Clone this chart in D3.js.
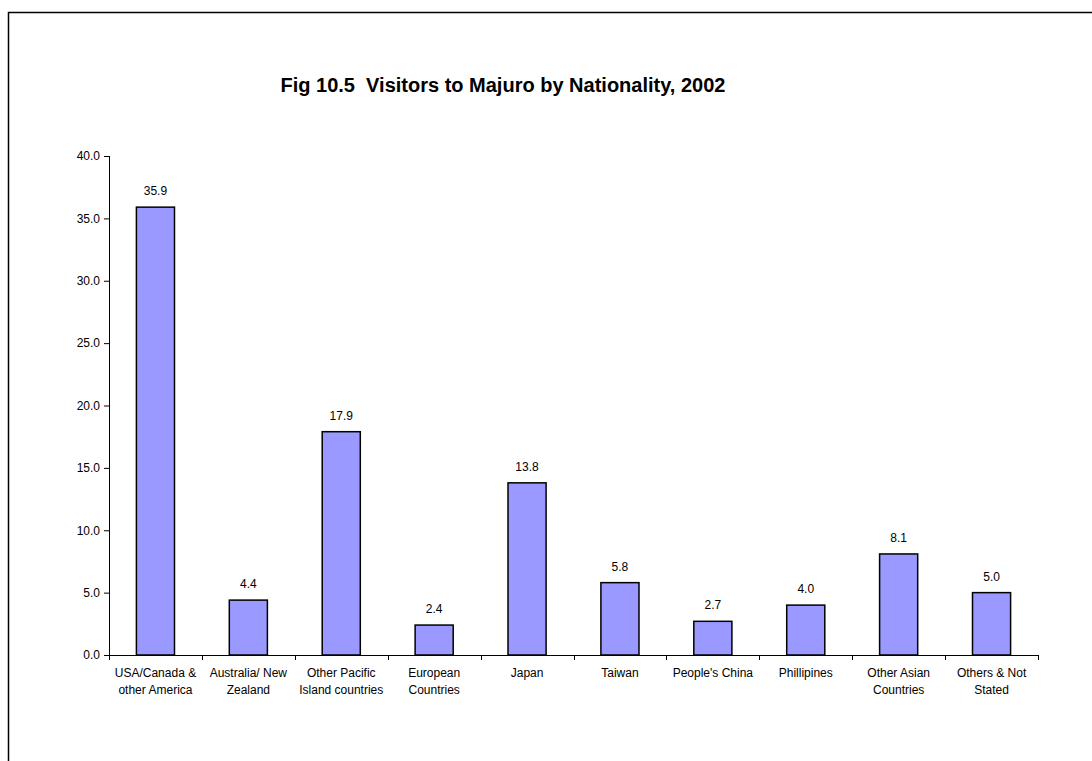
<!DOCTYPE html>
<html>
<head>
<meta charset="utf-8">
<script src="https://cdn.jsdelivr.net/npm/d3@7"></script>
<style>
  html, body { margin: 0; padding: 0; background: #fff; }
  svg { display: block; font-family: Arial, "Liberation Sans", sans-serif; }
</style>
</head>
<body>
<svg id="chart" width="1092" height="761"></svg>
<script>
// Visitors to Majuro by nationality, 2002 (percent of total)
const categories = [
  ["USA/Canada &", "other America"],
  ["Australia/ New", "Zealand"],
  ["Other Pacific", "Island countries"],
  ["European", "Countries"],
  ["Japan"],
  ["Taiwan"],
  ["People's China"],
  ["Phillipines"],
  ["Other Asian", "Countries"],
  ["Others & Not", "Stated"]
];
const values = [35.9, 4.4, 17.9, 2.4, 13.8, 5.8, 2.7, 4.0, 8.1, 5.0];
const yTicks = [0, 5, 10, 15, 20, 25, 30, 35, 40];
const title = "Fig 10.5  Visitors to Majuro by Nationality, 2002";

const svg = d3.select("#chart");

// outer chart frame (top and left edges)
svg.append("path")
  .attr("d", "M1092,12.5 H8.5 V761")
  .attr("fill", "none")
  .attr("stroke", "#000")
  .attr("stroke-width", 1.5);

const plot = { left: 109, right: 1038, top: 156, bottom: 655 };

const x = d3.scaleBand()
  .domain(d3.range(categories.length))
  .range([plot.left, plot.right])
  .paddingInner(0.59)
  .paddingOuter(0.295);

const xOuter = d3.scaleBand()
  .domain(d3.range(categories.length))
  .range([plot.left, plot.right]);

const y = d3.scaleLinear()
  .domain([0, 40])
  .range([plot.bottom, plot.top]);

// title
svg.append("text")
  .attr("x", 503)
  .attr("y", 92)
  .attr("text-anchor", "middle")
  .attr("font-size", 20)
  .attr("font-weight", "bold")
  .attr("fill", "#000")
  .style("white-space", "pre")
  .text(title);

// bars
svg.append("g")
  .selectAll("rect")
  .data(values)
  .join("rect")
  .attr("x", (d, i) => x(i))
  .attr("y", d => y(d))
  .attr("width", x.bandwidth())
  .attr("height", d => y(0) - y(d))
  .attr("fill", "#9999FF")
  .attr("stroke", "#000")
  .attr("stroke-width", 1.5);

// value labels
svg.append("g")
  .selectAll("text")
  .data(values)
  .join("text")
  .attr("x", (d, i) => x(i) + x.bandwidth() / 2)
  .attr("y", d => y(d) - 12)
  .attr("text-anchor", "middle")
  .attr("font-size", 12)
  .attr("fill", "#000")
  .text(d => d3.format(".1f")(d));

// y axis
const yAxis = d3.axisLeft(y)
  .tickValues(yTicks)
  .tickFormat(d3.format(".1f"))
  .tickSize(5)
  .tickPadding(4);
const gy = svg.append("g")
  .attr("transform", `translate(${plot.left},0)`)
  .call(yAxis);
gy.select(".domain").attr("stroke", "#000").attr("d", `M0.5,${plot.top}V${plot.bottom}`);
gy.selectAll(".tick line").attr("stroke", "#000");
gy.selectAll(".tick text").attr("font-size", 12).attr("font-family", "Arial, 'Liberation Sans', sans-serif").attr("fill", "#000");

// x axis: line with tick marks on category boundaries
const gx = svg.append("g").attr("transform", `translate(0,${plot.bottom})`);
gx.append("line")
  .attr("x1", plot.left).attr("x2", plot.right)
  .attr("y1", 0.5).attr("y2", 0.5)
  .attr("stroke", "#000");
gx.selectAll("line.tick")
  .data(d3.range(categories.length + 1))
  .join("line")
  .attr("class", "tick")
  .attr("x1", i => Math.round(plot.left + i * xOuter.step()) + 0.5)
  .attr("x2", i => Math.round(plot.left + i * xOuter.step()) + 0.5)
  .attr("y1", 0)
  .attr("y2", 5)
  .attr("stroke", "#000");

// category labels
const labels = gx.selectAll("text.cat")
  .data(categories)
  .join("text")
  .attr("class", "cat")
  .attr("text-anchor", "middle")
  .attr("font-size", 12)
  .attr("fill", "#000")
  .attr("transform", (d, i) => `translate(${xOuter(i) + xOuter.bandwidth() / 2},22)`);
labels.selectAll("tspan")
  .data(d => d)
  .join("tspan")
  .attr("x", 0)
  .attr("dy", (d, j) => j === 0 ? 0 : 17)
  .text(d => d);
</script>
</body>
</html>
